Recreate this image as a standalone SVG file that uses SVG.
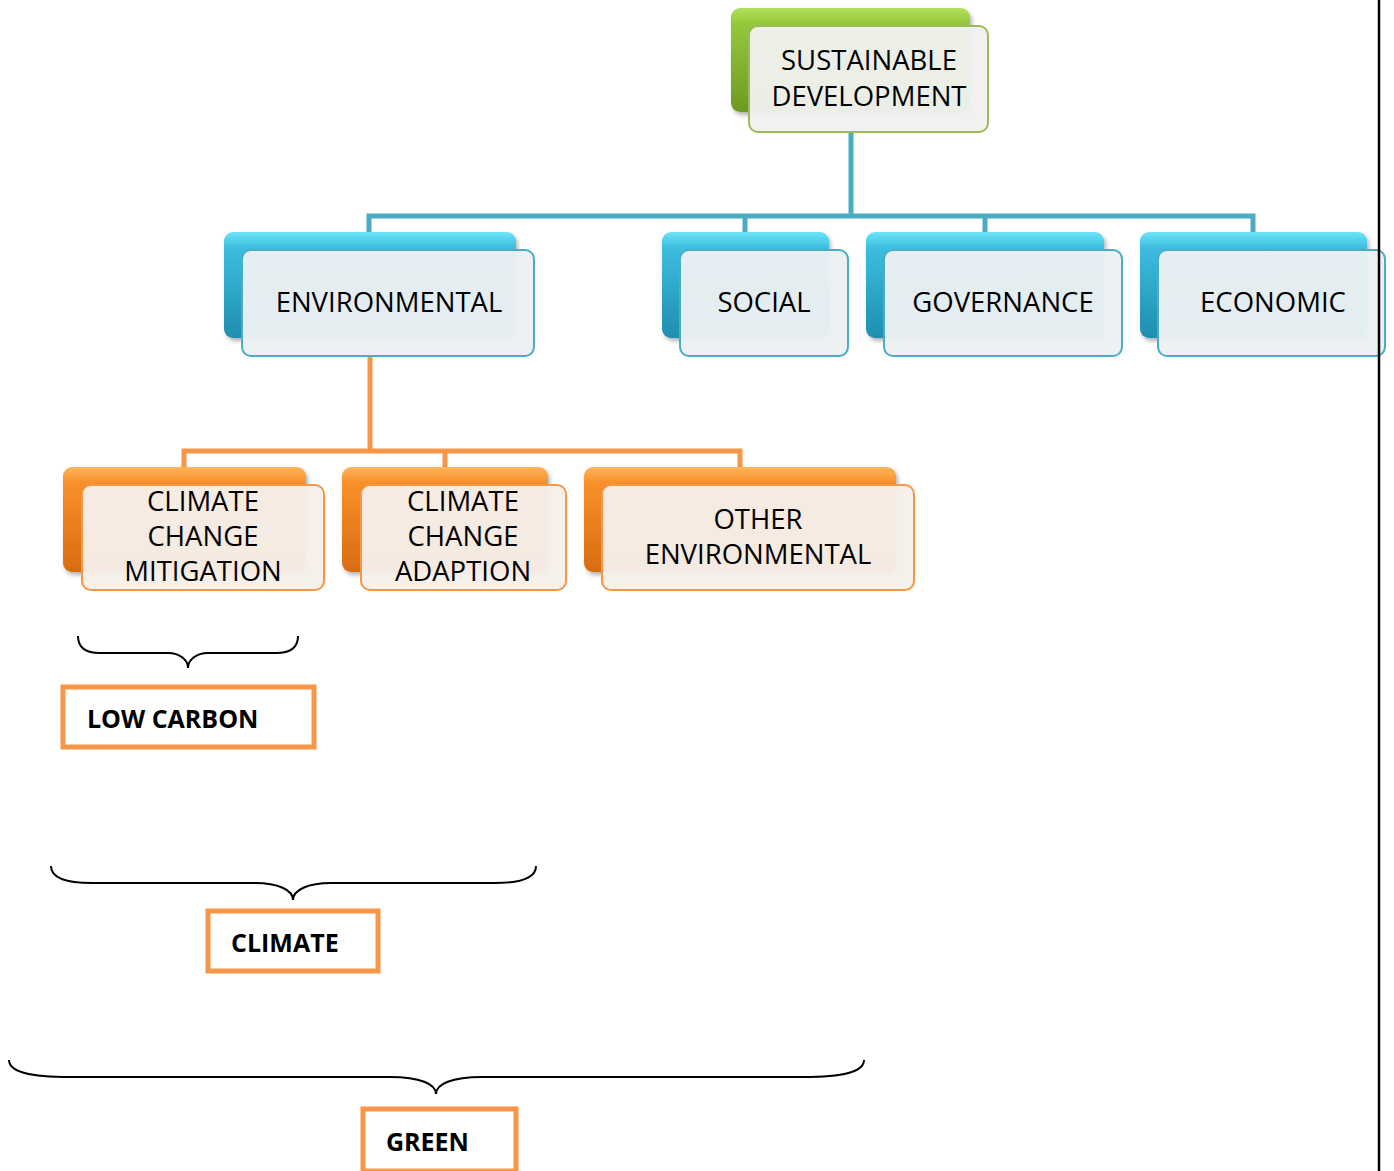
<svg xmlns="http://www.w3.org/2000/svg" width="1394" height="1171" viewBox="0 0 1394 1171">
<defs>
<linearGradient id="gGreen" x1="0" y1="0" x2="0" y2="1"><stop offset="0" stop-color="#b4e05a"/><stop offset="0.15" stop-color="#94c83c"/><stop offset="1" stop-color="#6e9a22"/></linearGradient>
<linearGradient id="gBlue" x1="0" y1="0" x2="0" y2="1"><stop offset="0" stop-color="#6de4f8"/><stop offset="0.15" stop-color="#3cbde0"/><stop offset="1" stop-color="#1f8eae"/></linearGradient>
<linearGradient id="gOrange" x1="0" y1="0" x2="0" y2="1"><stop offset="0" stop-color="#ffb45a"/><stop offset="0.15" stop-color="#f8902a"/><stop offset="1" stop-color="#d86c10"/></linearGradient>
<filter id="sh" x="-10%" y="-10%" width="130%" height="130%"><feDropShadow dx="2" dy="3" stdDeviation="2" flood-color="#000" flood-opacity="0.3"/></filter>
</defs>
<style>
.back{filter:url(#sh)}
.fG{fill:#f0f1ee;fill-opacity:0.96;stroke:#9bbb59;stroke-width:2}
.fB{fill:#ecf0f2;fill-opacity:0.96;stroke:#4bacc6;stroke-width:2}
.fO{fill:#f6efea;fill-opacity:0.96;stroke:#f79646;stroke-width:2}
.t{font-family:"Open Sans","Liberation Sans",sans-serif;font-size:27.5px;fill:#000;text-anchor:middle}
.b{font-family:"Open Sans","Liberation Sans",sans-serif;font-size:25px;font-weight:bold;fill:#000}
.cb{fill:none;stroke:#4bacc6;stroke-width:5}
.co{fill:none;stroke:#f79646;stroke-width:5}
.br{fill:none;stroke:#000;stroke-width:2}
.lab{fill:#fff;stroke:#f79646;stroke-width:5}
</style>
<g id="connectors">
<path class="cb" d="M851 132 V216 M369 232 V216 H1253 V232 M745 216 V232 M985 216 V232"/>
<path class="co" d="M370 356 V451 M184 467 V451 H740 V467 M445 451 V467"/>
</g>
<g id="sustainable">
<rect class="back" x="731" y="8" width="239" height="104" rx="9" fill="url(#gGreen)"/>
<rect class="fG" x="749" y="26" width="239" height="106" rx="9"/>
<text class="t" x="869" y="70">SUSTAINABLE</text>
<text class="t" x="869" y="106">DEVELOPMENT</text>
</g>
<g id="environmental">
<rect class="back" x="224" y="232" width="292" height="106" rx="9" fill="url(#gBlue)"/>
<rect class="fB" x="242" y="250" width="292" height="106" rx="9"/>
<text class="t" x="389" y="312">ENVIRONMENTAL</text>
</g>
<g id="social">
<rect class="back" x="662" y="232" width="167" height="106" rx="9" fill="url(#gBlue)"/>
<rect class="fB" x="680" y="250" width="168" height="106" rx="9"/>
<text class="t" x="764" y="312">SOCIAL</text>
</g>
<g id="governance">
<rect class="back" x="866" y="232" width="238" height="106" rx="9" fill="url(#gBlue)"/>
<rect class="fB" x="884" y="250" width="238" height="106" rx="9"/>
<text class="t" x="1003" y="312">GOVERNANCE</text>
</g>
<g id="economic">
<rect class="back" x="1140" y="232" width="227" height="106" rx="9" fill="url(#gBlue)"/>
<rect class="fB" x="1158" y="250" width="227" height="106" rx="9"/>
<text class="t" x="1273" y="312">ECONOMIC</text>
</g>
<g id="mitigation">
<rect class="back" x="63" y="467" width="243" height="105" rx="9" fill="url(#gOrange)"/>
<rect class="fO" x="82" y="485" width="242" height="105" rx="9"/>
<text class="t" x="203" y="511">CLIMATE</text>
<text class="t" x="203" y="546">CHANGE</text>
<text class="t" x="203" y="581">MITIGATION</text>
</g>
<g id="adaption">
<rect class="back" x="342" y="467" width="206" height="105" rx="9" fill="url(#gOrange)"/>
<rect class="fO" x="361" y="485" width="205" height="105" rx="9"/>
<text class="t" x="463" y="511">CLIMATE</text>
<text class="t" x="463" y="546">CHANGE</text>
<text class="t" x="463" y="581">ADAPTION</text>
</g>
<g id="other">
<rect class="back" x="584" y="467" width="312" height="105" rx="9" fill="url(#gOrange)"/>
<rect class="fO" x="602" y="485" width="312" height="105" rx="9"/>
<text class="t" x="758" y="529">OTHER</text>
<text class="t" x="758" y="564">ENVIRONMENTAL</text>
</g>
<line x1="1379" y1="0" x2="1379" y2="1171" stroke="#000" stroke-width="2.5"/>
<g id="brace-lowcarbon">
<path class="br" d="M78 636 C78 648 86 653 100 653 H168 C180 653 188 660 188 668 C188 660 196 653 208 653 H276 C290 653 298 648 298 636"/>
<rect class="lab" x="63" y="687" width="251" height="60"/>
<text class="b" x="87" y="728">LOW CARBON</text>
</g>
<g id="brace-climate">
<path class="br" d="M51 866 C51 878 66 883 92 883 H255 C278 883 293 890 293 900 C293 890 308 883 331 883 H495 C521 883 536 878 536 866"/>
<rect class="lab" x="208" y="911" width="170" height="60"/>
<text class="b" x="231" y="952">CLIMATE</text>
</g>
<g id="brace-green">
<path class="br" d="M9 1060 C9 1072 30 1077 70 1077 H390 C420 1077 436 1084 436 1094 C436 1084 452 1077 482 1077 H803 C843 1077 864 1072 864 1060"/>
<rect class="lab" x="363" y="1109" width="153" height="62"/>
<text class="b" x="386" y="1151">GREEN</text>
</g>
</svg>
